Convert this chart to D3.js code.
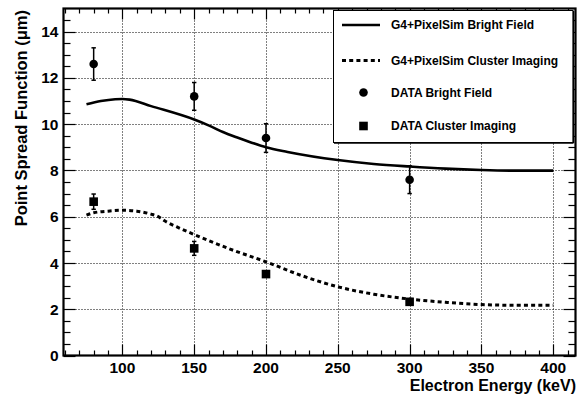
<!DOCTYPE html>
<html>
<head>
<meta charset="utf-8">
<script src="https://cdn.jsdelivr.net/npm/d3@7"></script>
<style>
  html, body { margin: 0; padding: 0; background: #fff; }
  svg { display: block; font-family: "Liberation Sans", Arial, Helvetica, sans-serif; font-weight: bold; }
</style>
</head>
<body>
<svg id="chart" width="578" height="398"></svg>
<script>
// Measured data points (energy in keV, PSF in micrometres)
const dataEnergies = [80, 150, 200, 300];
const brightFieldValues = [12.6, 11.2, 9.4, 7.6];
const brightFieldErrors = [0.7, 0.6, 0.62, 0.6];
const clusterValues = [6.65, 4.63, 3.52, 2.32];
const clusterErrors = [0.33, 0.3, 0.12, 0.1];

// Simulation curves (G4+PixelSim)
const simBrightEnergy = [75, 85, 95, 100, 105, 120, 150, 160, 170, 180, 190, 200, 215, 250, 275, 300, 325, 350, 375, 400];
const simBrightValue  = [10.86, 11.0, 11.08, 11.09, 11.06, 10.78, 10.2, 9.95, 9.66, 9.42, 9.2, 9.0, 8.8, 8.45, 8.28, 8.17, 8.08, 8.02, 7.99, 7.99];
const simClusterEnergy = [75, 80, 90, 100, 110, 120, 125, 130, 140, 150, 175, 200, 225, 250, 275, 300, 325, 350, 375, 400];
const simClusterValue  = [6.07, 6.17, 6.24, 6.28, 6.24, 6.11, 6.0, 5.8, 5.5, 5.23, 4.6, 4.05, 3.45, 2.97, 2.65, 2.44, 2.3, 2.2, 2.17, 2.17];

// Axis ticks and labels
const xMajorTicks = [100, 150, 200, 250, 300, 350, 400];
const yMajorTicks = [0, 2, 4, 6, 8, 10, 12, 14];
const xTitle = "Electron Energy (keV)";
const yTitle = "Point Spread Function (\u03bcm)";
const legendLabels = [
  "G4+PixelSim Bright Field",
  "G4+PixelSim Cluster Imaging",
  "DATA Bright Field",
  "DATA Cluster Imaging"
];

const frame = { left: 63.5, right: 575.5, top: 8.5, bottom: 355.5 };
const svg = d3.select("#chart");

const x = d3.scaleLinear().domain([59, 415.5]).range([frame.left, frame.right]);
const y = d3.scaleLinear().domain([0, 15]).range([frame.bottom, frame.top]);

const xMinorTicks = d3.range(60, 416, 10).filter(v => !xMajorTicks.includes(v));
const yMinorTicks = d3.range(0.5, 15, 0.5).filter(v => !yMajorTicks.includes(v));

// Dotted grid at major ticks
const grid = svg.append("g").attr("stroke", "#000").attr("stroke-width", 1).attr("stroke-dasharray", "1,2");
grid.selectAll("line.gx").data(xMajorTicks).join("line")
  .attr("x1", d => Math.round(x(d)) + 0.5).attr("x2", d => Math.round(x(d)) + 0.5)
  .attr("y1", frame.top).attr("y2", frame.bottom);
grid.selectAll("line.gy").data(yMajorTicks.filter(v => v > 0)).join("line")
  .attr("y1", d => Math.round(y(d)) + 0.5).attr("y2", d => Math.round(y(d)) + 0.5)
  .attr("x1", frame.left).attr("x2", frame.right);

// Tick marks on all four sides
const ticks = svg.append("g").attr("stroke", "#000").attr("stroke-width", 1.2);
function xTickMarks(values, len) {
  values.forEach(v => {
    const px = Math.round(x(v)) + 0.5;
    ticks.append("line").attr("x1", px).attr("x2", px).attr("y1", frame.bottom).attr("y2", frame.bottom - len);
    ticks.append("line").attr("x1", px).attr("x2", px).attr("y1", frame.top).attr("y2", frame.top + len);
  });
}
function yTickMarks(values, len) {
  values.forEach(v => {
    const py = Math.round(y(v)) + 0.5;
    ticks.append("line").attr("y1", py).attr("y2", py).attr("x1", frame.left).attr("x2", frame.left + len);
    ticks.append("line").attr("y1", py).attr("y2", py).attr("x1", frame.right).attr("x2", frame.right - len);
  });
}
xTickMarks(xMajorTicks, 11);
xTickMarks(xMinorTicks, 5);
yTickMarks(yMajorTicks, 12);
yTickMarks(yMinorTicks, 7);

// Tick labels
svg.append("g").selectAll("text").data(xMajorTicks).join("text")
  .attr("x", d => x(d)).attr("y", 372.5)
  .attr("text-anchor", "middle").attr("font-size", 15.5)
  .text(d => d);
svg.append("g").selectAll("text").data(yMajorTicks).join("text")
  .attr("x", 58.5).attr("y", d => y(d)).attr("dy", "0.36em")
  .attr("text-anchor", "end").attr("font-size", 15.5)
  .text(d => d);

// Axis titles
svg.append("text").attr("x", 576).attr("y", 390.5)
  .attr("text-anchor", "end").attr("font-size", 16).text(xTitle);
svg.append("text").attr("transform", "translate(27,10) rotate(-90)")
  .attr("text-anchor", "end").attr("font-size", 16.5).text(yTitle);

// Simulation curves
const simLine = d3.line().x(d => x(d[0])).y(d => y(d[1])).curve(d3.curveMonotoneX);
svg.append("path")
  .datum(simBrightEnergy.map((e, i) => [e, simBrightValue[i]]))
  .attr("d", simLine).attr("fill", "none").attr("stroke", "#000").attr("stroke-width", 2.6);
svg.append("path")
  .datum(simClusterEnergy.map((e, i) => [e, simClusterValue[i]]))
  .attr("d", simLine).attr("fill", "none").attr("stroke", "#000").attr("stroke-width", 3)
  .attr("stroke-dasharray", "4,3.2");

// Error bars with small caps
function errorBars(values, errors) {
  const g = svg.append("g").attr("stroke", "#000").attr("stroke-width", 1.5);
  dataEnergies.forEach((e, i) => {
    const px = x(e), lo = y(values[i] - errors[i]), hi = y(values[i] + errors[i]);
    g.append("line").attr("x1", px).attr("x2", px).attr("y1", lo).attr("y2", hi);
    g.append("line").attr("x1", px - 2.2).attr("x2", px + 2.2).attr("y1", lo).attr("y2", lo);
    g.append("line").attr("x1", px - 2.2).attr("x2", px + 2.2).attr("y1", hi).attr("y2", hi);
  });
}
errorBars(brightFieldValues, brightFieldErrors);
errorBars(clusterValues, clusterErrors);

// Data markers
svg.append("g").selectAll("circle").data(dataEnergies).join("circle")
  .attr("cx", d => x(d)).attr("cy", (d, i) => y(brightFieldValues[i])).attr("r", 4.3).attr("fill", "#000");
const sq = 8.6;
svg.append("g").selectAll("rect").data(dataEnergies).join("rect")
  .attr("x", d => x(d) - sq / 2).attr("y", (d, i) => y(clusterValues[i]) - sq / 2)
  .attr("width", sq).attr("height", sq).attr("fill", "#000");

// Legend
const legend = svg.append("g");
legend.append("rect").attr("x", 333.5).attr("y", 10.5).attr("width", 239.5).attr("height", 132)
  .attr("fill", "#fff").attr("stroke", "#000").attr("stroke-width", 1);
legend.append("line").attr("x1", 334).attr("x2", 573.5).attr("y1", 143).attr("y2", 143)
  .attr("stroke", "#000").attr("stroke-width", 1.5);
legend.append("line").attr("x1", 573.5).attr("x2", 573.5).attr("y1", 11).attr("y2", 143)
  .attr("stroke", "#000").attr("stroke-width", 1.5);
const legendRows = [25, 60.5, 92.5, 126];
legend.append("line").attr("x1", 342).attr("x2", 380).attr("y1", legendRows[0]).attr("y2", legendRows[0])
  .attr("stroke", "#000").attr("stroke-width", 2.6);
legend.append("line").attr("x1", 342).attr("x2", 380).attr("y1", legendRows[1]).attr("y2", legendRows[1])
  .attr("stroke", "#000").attr("stroke-width", 3).attr("stroke-dasharray", "4,3.2");
legend.append("circle").attr("cx", 363.5).attr("cy", legendRows[2]).attr("r", 4.3).attr("fill", "#000");
legend.append("rect").attr("x", 363.5 - sq / 2).attr("y", legendRows[3] - sq / 2)
  .attr("width", sq).attr("height", sq).attr("fill", "#000");
legend.selectAll("text").data(legendLabels).join("text")
  .attr("x", 391).attr("y", (d, i) => legendRows[i]).attr("dy", "0.36em")
  .attr("font-size", 12).text(d => d);

// Frame
svg.append("rect").attr("x", frame.left).attr("y", frame.top)
  .attr("width", frame.right - frame.left).attr("height", frame.bottom - frame.top)
  .attr("fill", "none").attr("stroke", "#000").attr("stroke-width", 2.2);
</script>
</body>
</html>
